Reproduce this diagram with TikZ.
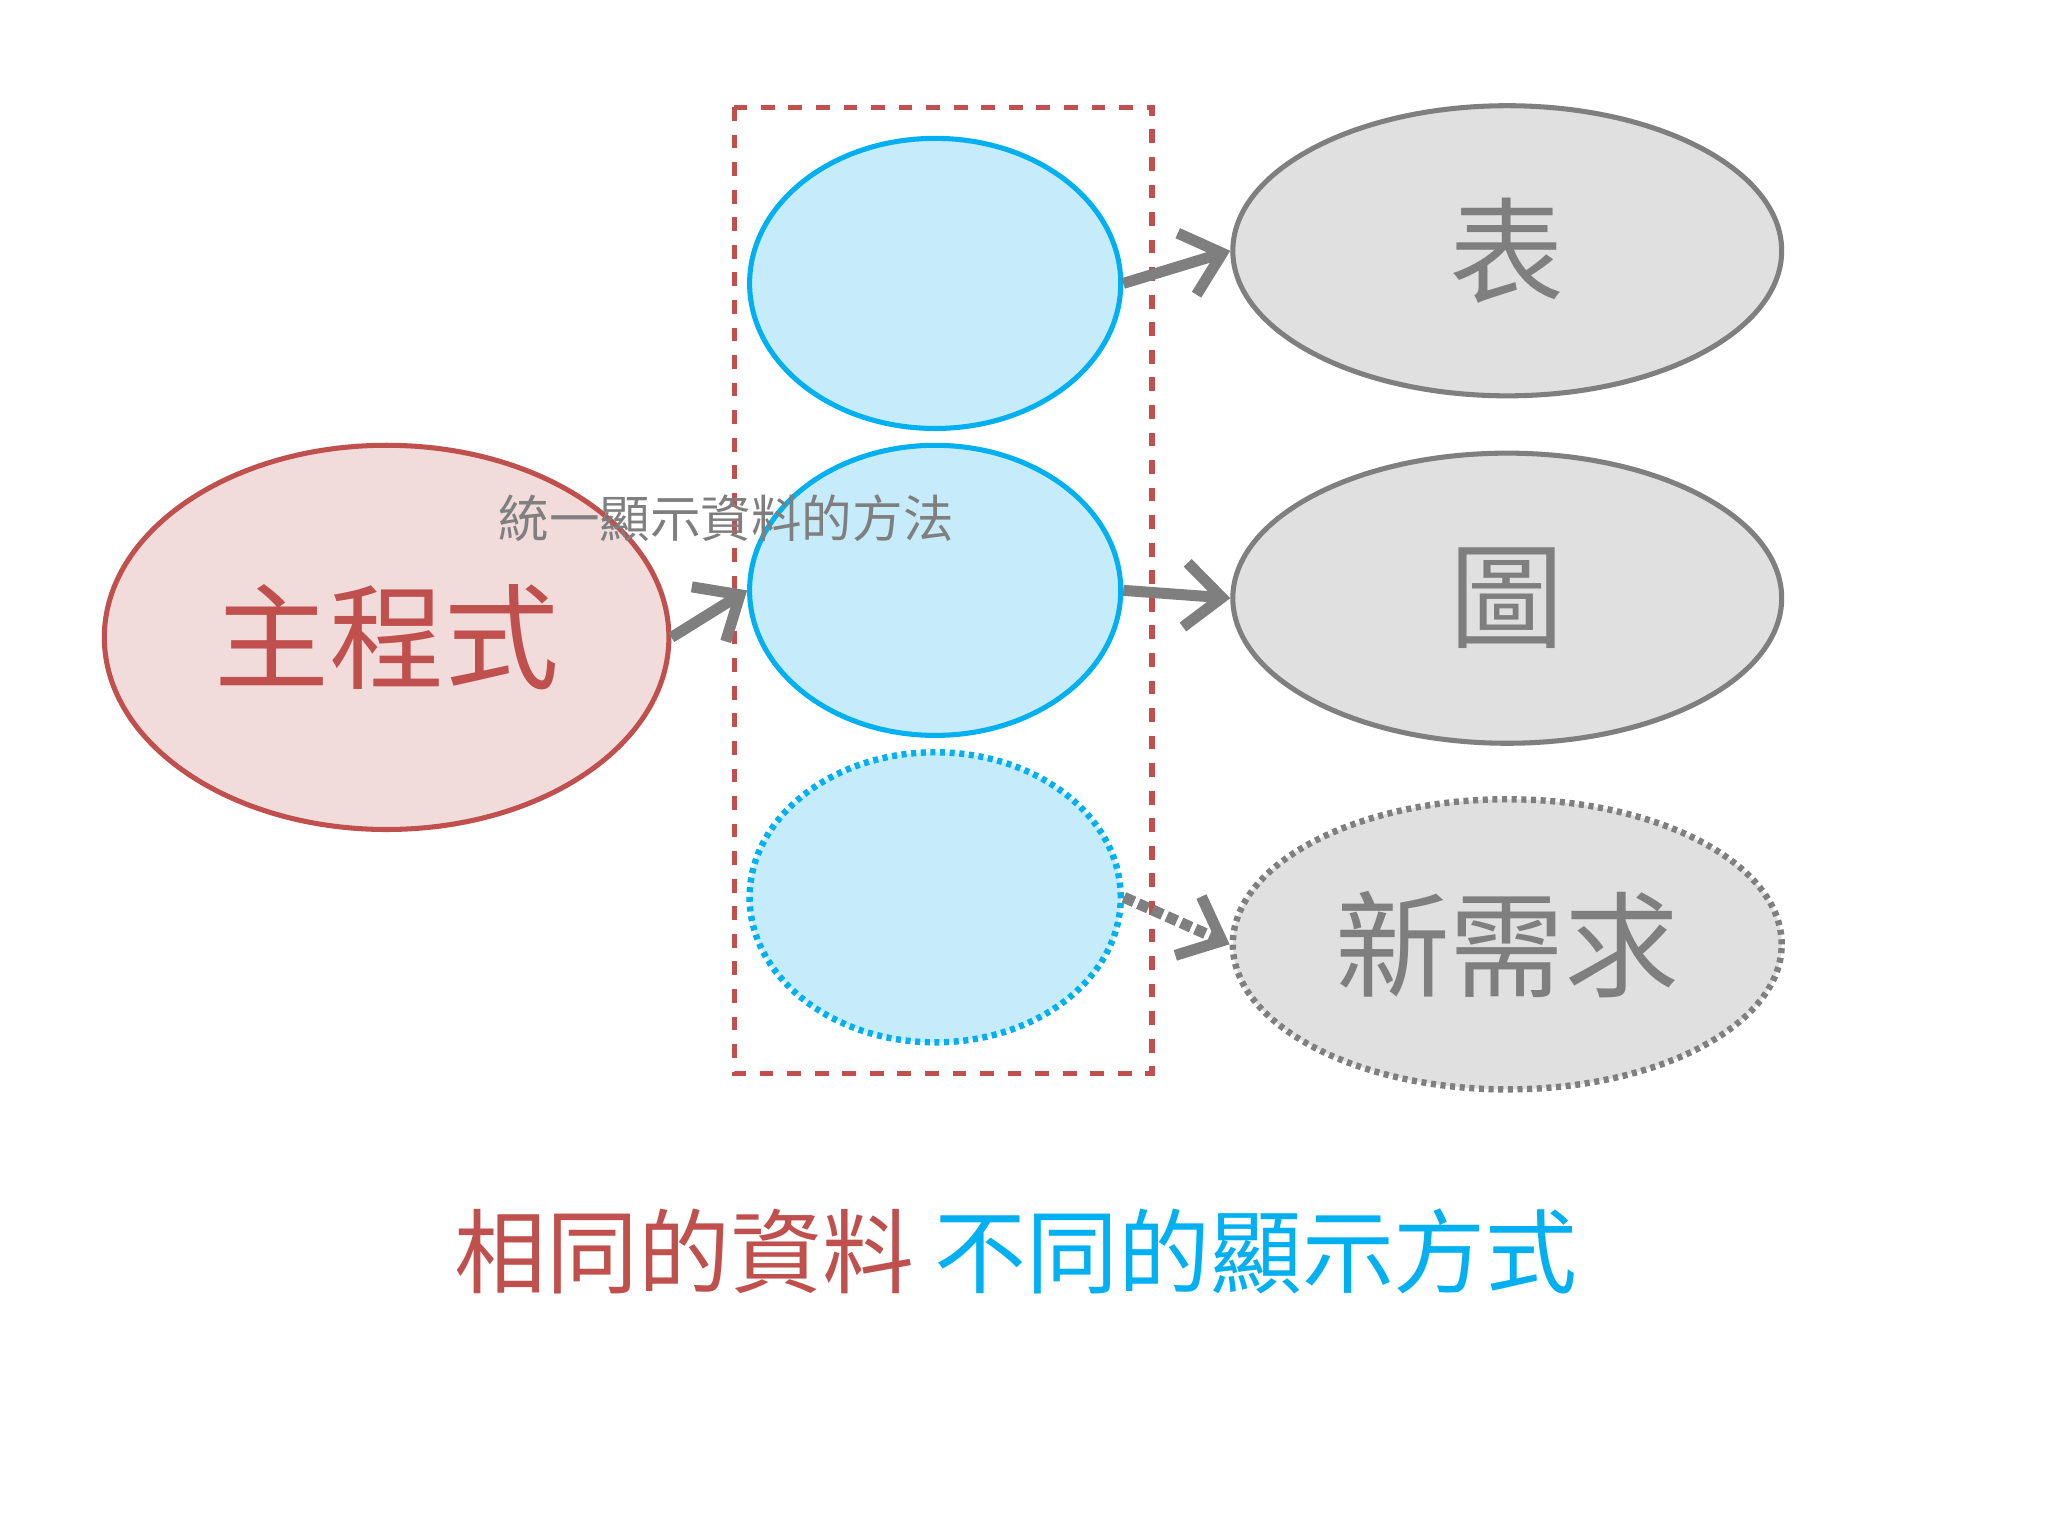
\documentclass[tikz,border=0pt]{standalone}
\usepackage{fontspec}
\setmainfont{Noto Sans CJK TC}
\usetikzlibrary{shapes.geometric,arrows.meta}
\definecolor{rd}{HTML}{C0504D}\definecolor{pk}{HTML}{F2DCDB}
\definecolor{bl}{HTML}{00B0F0}\definecolor{lb}{HTML}{C6EBFA}
\definecolor{gy}{HTML}{7F7F7F}\definecolor{lg}{HTML}{E0E0E0}
\tikzset{x=0.01cm,y=-0.01cm,
 bnode/.style={ellipse,draw=bl,fill=lb,line width=1.1pt,minimum width=2.84cm,minimum height=2.22cm,inner sep=0},
 gnode/.style={ellipse,draw=gy,fill=lg,line width=1.1pt,minimum width=4.2cm,minimum height=2.22cm,inner sep=0,text=gy,font=\fontsize{25}{28}\selectfont},
 arr/.style={gy,line width=2.4pt,-{Straight Barb[length=8pt,width=14pt]}}}
\begin{document}
\begin{tikzpicture}
\useasboundingbox (0,0) rectangle (1568,1176);
\fill[white] (0,0) rectangle (1568,1176);
\node[ellipse,draw=rd,fill=pk,line width=1.1pt,minimum width=4.32cm,minimum height=2.94cm,text=rd,font=\fontsize{25}{28}\selectfont] (main) at (296,488) {主程式};
\draw[rd,dashed,line width=1.1pt] (562,82) rectangle (882,822);
\node[bnode] (b1) at (716,217) {};
\node[bnode] (b2) at (716,452) {};
\node[bnode,densely dotted,line width=1.4pt] (b3) at (716,687) {};
\node[gnode] (g1) at (1154,192) {表};
\node[gnode] (g2) at (1154,458) {圖};
\node[gnode,densely dotted,line width=1.4pt] (g3) at (1154,723) {新需求};
\draw[arr] (main.east) -- (b2.west);
\draw[arr] (b1.east) -- (g1.west);
\draw[arr] (b2.east) -- (g2.west);
\draw[arr,densely dotted] (b3.east) -- (g3.west);
\node[text=gy,font=\fontsize{11}{13}\selectfont] (lab) at (556,397) {統一顯示資料的方法};
\node[font=\fontsize{20}{24}\selectfont] (bot) at (778,958) {\textcolor{rd}{相同的資料} \textcolor{bl}{不同的顯示方式}};
\end{tikzpicture}
\end{document}
